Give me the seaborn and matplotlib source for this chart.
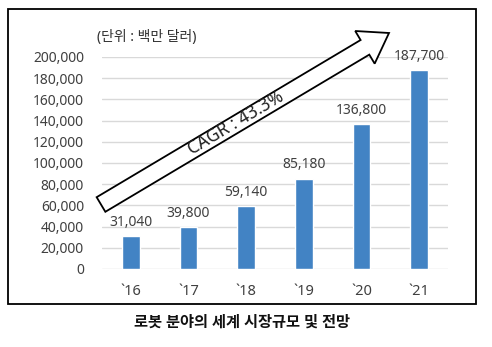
import matplotlib
matplotlib.use("Agg")
import matplotlib.pyplot as plt
import seaborn as sns
import pandas as pd
from matplotlib.patches import Polygon, Rectangle
import numpy as np

years = ["`16", "`17", "`18", "`19", "`20", "`21"]
values = [31040, 39800, 59140, 85180, 136800, 187700]
value_labels = ["31,040", "39,800", "59,140", "85,180", "136,800", "187,700"]
yticks = [0, 20000, 40000, 60000, 80000, 100000, 120000, 140000, 160000, 180000, 200000]
unit_text = "(단위 : 백만 달러)"
cagr_text = "CAGR : 43.3%"
caption = "로봇 분야의 세계 시장규모 및 전망"

sns.set_style("white")
plt.rcParams['font.family'] = ['Noto Sans', 'Noto Sans CJK KR', 'DejaVu Sans']

W, H = 492, 347
fig = plt.figure(figsize=(W / 100, H / 100), dpi=100)
ax = fig.add_axes([102 / W, (H - 269) / H, 346 / W, 212 / H])

df = pd.DataFrame({"year": years, "value": values})
sns.barplot(data=df, x="year", y="value", color="#4283C4", saturation=1,
            width=0.31, ax=ax)

ax.set_xlim(-0.5, 5.5)
ax.set_ylim(0, 200000)
ax.set_yticks(yticks)
ax.set_yticklabels([f"{v:,}" for v in yticks], fontsize=10, color="#404040")
ax.set_xticks(range(len(years)))
ax.set_xticklabels(years, fontsize=10.5, color="#404040")
ax.tick_params(axis="both", length=0)
ax.tick_params(axis="y", pad=13)
ax.tick_params(axis="x", pad=11)
ax.set_xlabel("")
ax.set_ylabel("")
ax.yaxis.grid(True, color="#d9d9d9", linewidth=1)
ax.set_axisbelow(True)
for s in ax.spines.values():
    s.set_visible(False)

for i, (v, lab) in enumerate(zip(values, value_labels)):
    ax.annotate(lab, (i, v), xytext=(0, 4.5), textcoords="offset points",
                ha="center", va="bottom", fontsize=10, color="#404040")

# frame
fig.patches.append(Rectangle((8 / W, (H - 304) / H), 468 / W, 295 / H,
                             transform=fig.transFigure, fill=False,
                             edgecolor="black", linewidth=1.3))

# arrow (pixel coords, y down)
T = np.array([101.0, 204.5])
P = np.array([389.0, 33.0])
d = P - T
L = np.hypot(*d)
u = d / L
n = np.array([abs(u[1]), abs(u[0])])
w, hw, hl = 8.5, 19.0, 28.0
base = T + u * (L - hl)
pts = [T - n * w, base - n * w, base - n * hw, P, base + n * hw, base + n * w, T + n * w]
pts_fig = [(p[0] / W, (H - p[1]) / H) for p in pts]
fig.patches.append(Polygon(pts_fig, closed=True, transform=fig.transFigure,
                           facecolor="white", edgecolor="black", linewidth=1.3))
ang = np.degrees(np.arctan2(-d[1], d[0]))
fig.text(236 / W, (H - 123) / H, cagr_text, rotation=ang, rotation_mode="anchor",
         ha="center", va="center", fontsize=12.5, color="#202020")

fig.text(97 / W, (H - 38) / H, unit_text, ha="left", va="center",
         fontsize=10, color="#303030")
fig.text(242 / W, (H - 323) / H, caption, ha="center", va="center",
         fontsize=11, fontweight="bold", color="#111111")

fig.savefig("out.png", dpi=100)
